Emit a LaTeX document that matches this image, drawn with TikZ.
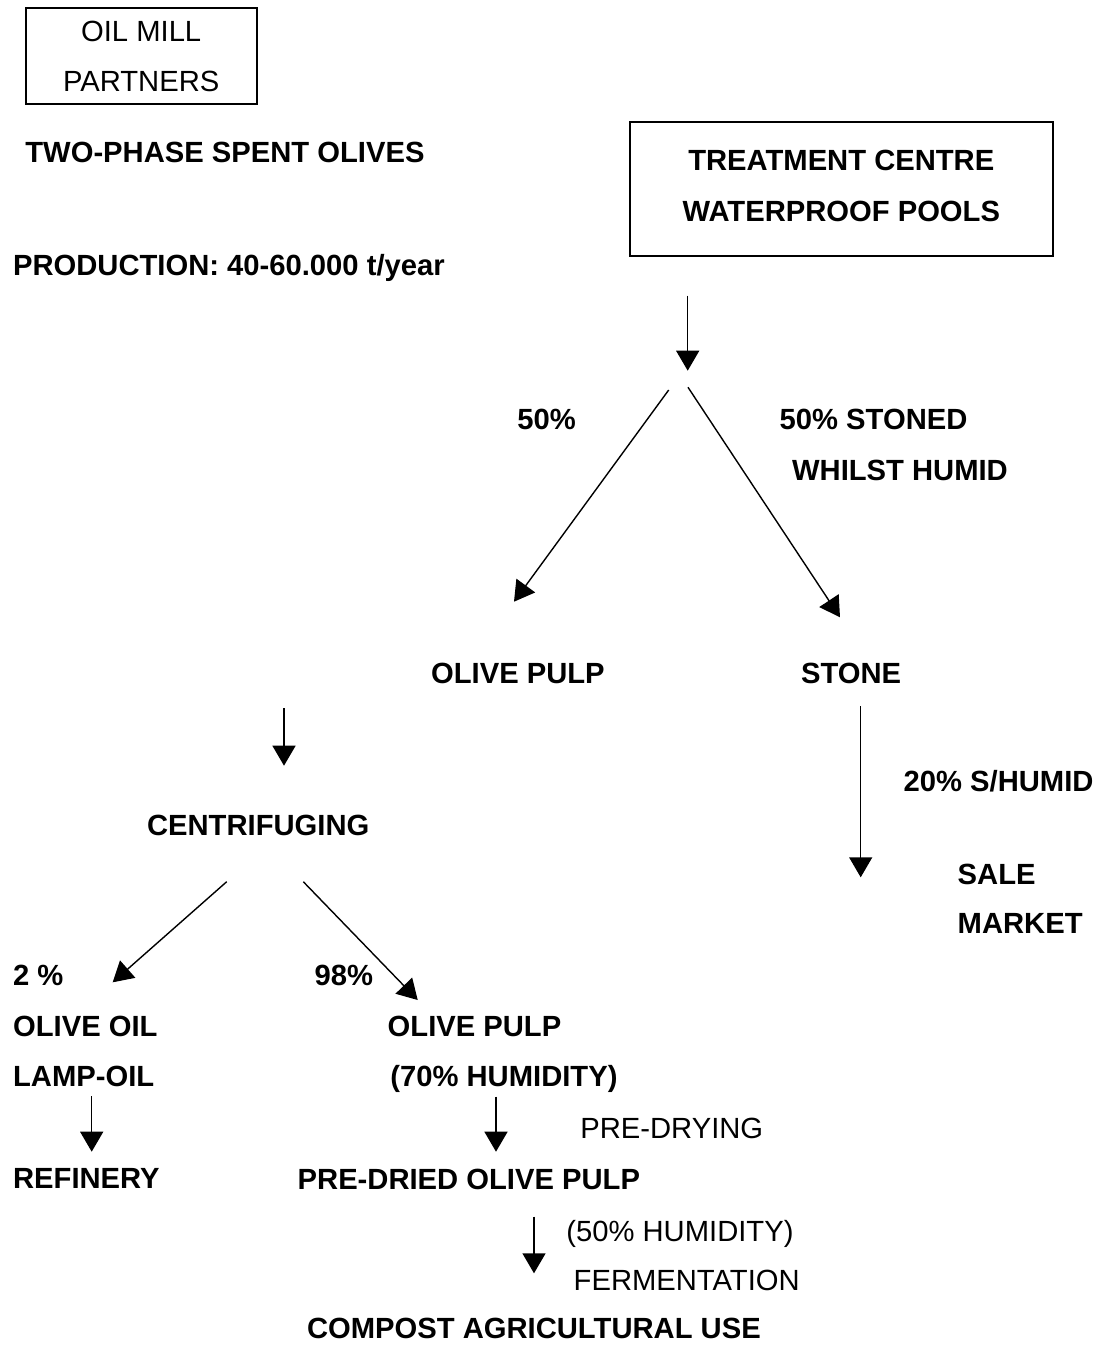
\documentclass[tikz,border=0pt]{standalone}
\usepackage{fontspec}
\setmainfont{Liberation Sans}
\usetikzlibrary{arrows.meta}

\begin{document}
\begin{tikzpicture}[x=0.5pt, y=-0.5pt, every node/.style={inner sep=0pt, font=\fontsize{14.6}{25}\selectfont}]
\tikzset{
  lbl/.style={anchor=base west, font=\fontsize{14.6}{25}\selectfont\bfseries},
  plain/.style={anchor=base west},
  flow/.style={line width=0.7pt, -{Triangle[length=10pt, width=11.5pt]}},
  box/.style={draw, line width=0.85pt, align=center}
}
\useasboundingbox (0,0) rectangle (1101,1345);

% Boxes
\node[box, minimum width=115.5pt, minimum height=48pt, font=\fontsize{14.6}{24.7}\selectfont] (mill) at (141.2,56.3) {OIL MILL\\PARTNERS};
\node[box, minimum width=211.4pt, minimum height=66.9pt, text depth=3.4pt, font=\fontsize{14.6}{25.5}\selectfont\bfseries] (centre) at (841.3,189.2) {TREATMENT CENTRE\\WATERPROOF POOLS};

% Left column
\node[lbl] (phase) at (25,162.7) {TWO-PHASE SPENT OLIVES};
\node[lbl] (prod) at (12.7,275) {PRODUCTION: 40-60.000 t/year};
\node[lbl] (centri) at (146.7,835) {CENTRIFUGING};
\node[lbl] (pcoil) at (12.7,985) {2 \%};
\node[lbl] (oil) at (12.7,1036.7) {OLIVE OIL};
\node[lbl] (lamp) at (12.7,1086.7) {LAMP-OIL};
\node[lbl] (refin) at (12.7,1188.5) {REFINERY};

% Split after the pools
\node[lbl] (pcpulp) at (517,429) {50\%};
\node[lbl] (pcstone) at (779.3,429) {50\% STONED};
\node[lbl] (whilst) at (791.7,480) {WHILST HUMID};
\node[lbl] (pulp) at (430.7,683) {OLIVE PULP};
\node[lbl] (stone) at (800.7,683) {STONE};
\node[lbl] (shumid) at (903.3,791) {20\% S/HUMID};
\node[lbl] (sale) at (957.3,884) {SALE};
\node[lbl] (market) at (957.3,933.3) {MARKET};

% Pulp line
\node[lbl] (pcwet) at (314.3,985) {98\%};
\node[lbl] (wetpulp) at (387.3,1036.7) {OLIVE PULP};
\node[lbl] (hum70) at (390,1086.7) {(70\% HUMIDITY)};
\node[plain] (predry) at (580,1138.3) {PRE-DRYING};
\node[lbl] (dried) at (297.3,1189.3) {PRE-DRIED OLIVE PULP};
\node[plain] (hum50) at (566,1241.7) {(50\% HUMIDITY)};
\node[plain] (ferm) at (573.3,1290) {FERMENTATION};
\node[lbl] (compost) at (306.7,1338.3) {COMPOST AGRICULTURAL USE};

% Arrows
\foreach \sx/\sy/\ex/\ey/\n in {687.7/295.7/687.7/370.7/pools, 668.7/390/514/601.7/pulp,
    688/387.3/840/617.3/stone, 860.7/706/860.7/877.3/sale, 284/708.3/284/765.7/centri,
    226.7/881.7/112.7/982.3/oil, 303.3/881.7/417.7/1000/wet, 91.7/1096/91.7/1151.7/refin,
    496/1096.7/496/1151.7/dry, 534/1216.7/534/1273.3/compost} {
        \coordinate (from-\n) at (\sx,\sy);
        \coordinate (to-\n) at (\ex,\ey);
        \draw[flow] (from-\n) -- (to-\n);
}
\end{tikzpicture}
\end{document}
